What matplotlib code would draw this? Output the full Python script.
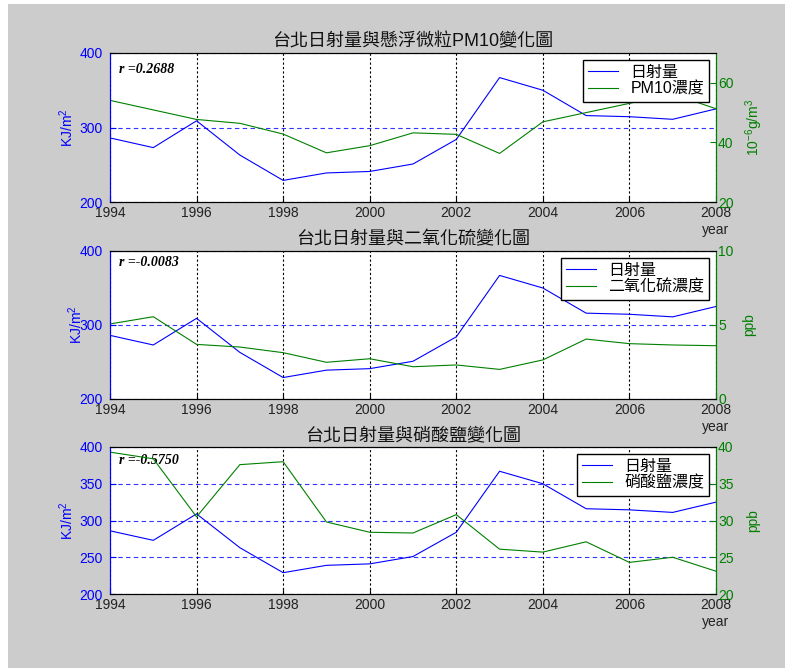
import matplotlib.pyplot as plt
from matplotlib.patches import Rectangle

plt.rcParams['font.family'] = ['Liberation Sans', 'Noto Sans CJK TC']
plt.rcParams['mathtext.fontset'] = 'custom'
plt.rcParams['mathtext.rm'] = 'Liberation Sans'
plt.rcParams['mathtext.it'] = 'Liberation Sans:italic'
plt.rcParams['axes.unicode_minus'] = False

# yearly means, Taipei
years = [1994, 1995, 1996, 1997, 1998, 1999, 2000, 2001,
         2002, 2003, 2004, 2005, 2006, 2007, 2008]
solar = [286, 273, 309, 263, 229, 239, 241, 251,
         284, 367, 350, 316, 314.5, 311, 325]
pm10 = [54.1, 50.9, 47.7, 46.4, 42.8, 36.5, 38.9, 43.2,
        42.7, 36.3, 46.9, 50.0, 53.1, 56.2, 51.3]
so2 = [5.07, 5.56, 3.69, 3.51, 3.13, 2.48, 2.72, 2.18,
       2.30, 2.00, 2.64, 4.05, 3.74, 3.65, 3.60]
nitrate = [39.3, 38.4, 30.5, 37.6, 38.0, 29.8, 28.4, 28.3,
           30.8, 26.1, 25.7, 27.1, 24.3, 25.0, 23.1]

titles = ['台北日射量與懸浮微粒PM10變化圖', '台北日射量與二氧化硫變化圖', '台北日射量與硝酸鹽變化圖']
legend_names = ['PM10濃度', '二氧化硫濃度', '硝酸鹽濃度']
right_labels = ['10$^{-6}$g/m$^3$', 'ppb', 'ppb']
r_texts = ['r =0.2688', 'r =-0.0083', 'r =-0.5750']
x_ticks = [1994, 1996, 1998, 2000, 2002, 2004, 2006, 2008]
left_ticks = [[200, 300, 400], [200, 300, 400], [200, 250, 300, 350, 400]]
right_ticks = [[20, 40, 60], [0, 5, 10], [20, 25, 30, 35, 40]]
right_lims = [(20, 70), (0, 10), (20, 40)]
series = [pm10, so2, nitrate]

blue = '#0000ff'
green = '#008000'

W, H = 785, 668
fig = plt.figure(figsize=(W / 100, H / 100), dpi=100, facecolor='#cccccc')
# white strips along top and left edge
fig.add_artist(Rectangle((0, 1 - 4 / H), 1, 4 / H, transform=fig.transFigure, color='white', lw=0))
fig.add_artist(Rectangle((0, 0), 8 / W, 1, transform=fig.transFigure, color='white', lw=0))

# axes boxes in pixels: top, bottom
boxes = [(53, 202), (251, 399), (447, 594)]
r_ypos = [0.886, 0.919, 0.911]
left_pads = [3, -4, 3]
right_pads = [7, 6, 9]

for i in range(3):
    top, bot = boxes[i]
    ax = fig.add_axes([110 / W, 1 - bot / H, 606 / W, (bot - top) / H])
    ax2 = ax.twinx()

    l1, = ax.plot(years, solar, color=blue, lw=0.8)
    l2, = ax2.plot(years, series[i], color=green, lw=0.8)

    ax.set_xlim(1994, 2008)
    ax.set_ylim(200, 400)
    ax.set_xticks(x_ticks)
    ax.set_yticks(left_ticks[i])
    ax2.set_ylim(*right_lims[i])
    ax2.set_yticks(right_ticks[i])

    ax.grid(axis='y', color=blue, ls=(0, (4, 3)), lw=0.8, alpha=0.8)
    ax.grid(axis='x', color='black', ls=(0, (2, 2)), lw=0.8)

    ax.tick_params(axis='y', colors=blue, direction='in', length=4, pad=5, labelsize=10)
    ax.tick_params(axis='x', color='black', labelcolor='#222222', direction='in',
                   length=4, pad=3, labelsize=10)
    ax2.tick_params(axis='y', colors=green, direction='in', length=4, pad=1.5, labelsize=10)

    for a in (ax, ax2):
        a.spines['left'].set_color(blue)
        a.spines['right'].set_color(green)
        a.spines['top'].set_color('black')
        a.spines['bottom'].set_color('black')

    ax.set_ylabel('KJ/m$^2$', color=blue, fontsize=10, labelpad=left_pads[i])
    ax2.set_ylabel(right_labels[i], color=green, fontsize=10, labelpad=right_pads[i])
    ax.set_xlabel('year', fontsize=10, color='#222222')
    ax.xaxis.set_label_coords(1.0, -0.14)
    ax.set_title(titles[i], fontsize=13, pad=5, color='#111111')

    ax.text(0.015, r_ypos[i], r_texts[i], transform=ax.transAxes, family='Liberation Serif',
            weight='bold', style='italic', fontsize=10, va='center')

    leg = ax2.legend([l1, l2], ['日射量', legend_names[i]], loc='upper right', fontsize=11.5,
                     fancybox=False, edgecolor='black', framealpha=1, handlelength=1.9,
                     handletextpad=0.75, labelspacing=0.1, borderpad=0.3,
                     borderaxespad=0.45)
    leg.get_frame().set_linewidth(1.0)

fig.savefig('out.png', dpi=100, facecolor=fig.get_facecolor())
